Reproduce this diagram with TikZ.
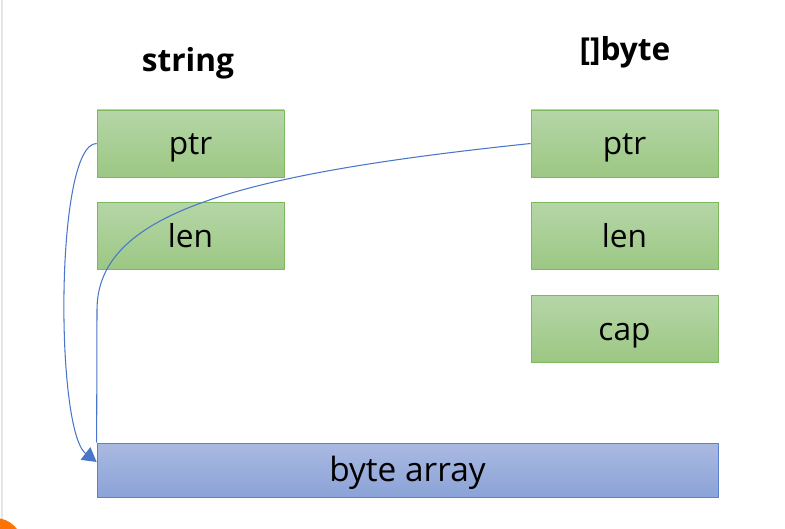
\documentclass[tikz,border=0pt]{standalone}
\usepackage{fontspec}
\setmainfont{Open Sans}
\usetikzlibrary{positioning, arrows.meta}

\definecolor{boxtop}{HTML}{B5D6A7}
\definecolor{boxbot}{HTML}{9CC783}
\definecolor{boxline}{HTML}{7DB95C}
\definecolor{arrtop}{HTML}{AAB9E1}
\definecolor{arrbot}{HTML}{8BA3D7}
\definecolor{arrline}{HTML}{5B80D0}
\definecolor{linkblue}{HTML}{4A76C8}

\begin{document}
\begin{tikzpicture}[]
        \tikzset{
            >={Triangle[length=8pt, width=9pt]}, % filled arrow head
            node distance=0.5cm, % gap between the fields
            field/.style={draw=boxline, top color=boxtop, bottom color=boxbot, minimum width=3.74cm, minimum height=1.34cm, text height=15pt, text depth=2pt, font=\fontsize{18}{21}\selectfont},
            title/.style={font=\fontsize{18}{21}\selectfont\bfseries},
            link/.style={draw=linkblue, line width=0.6pt},
            }
        \useasboundingbox (0,0) rectangle (15.7,10.56);
        \begin{scope}
        \clip (0,0) rectangle (15.7,10.56);
        \draw[gray!20, line width=0.8pt] (0.04,0) -- (0.04,10.56);
        \fill[orange!90!red] (-0.1,-0.35) circle (0.55);
        \end{scope}

        % nodes
        \node[title] (string_title) at (3.76,9.30) {string};
        \node[title] (bytes_title) at (12.5,9.52) {[]byte};
        \node[field] (s_ptr) at (3.81,7.69) {ptr};
        \node[field, below=of s_ptr] (s_len) {len};
        \node[field] (b_ptr) at (12.49,7.69) {ptr};
        \node[field, below=of b_ptr] (b_len) {len};
        \node[field, below=of b_len] (b_cap) {cap};
        \node[draw=arrline, top color=arrtop, bottom color=arrbot, minimum width=12.42cm, minimum height=1.08cm, text height=15pt, text depth=2pt, font=\fontsize{19}{22}\selectfont] (byte_array) at (8.15,1.16) {byte array};

        % pointer paths
        \draw[link, ->] (s_ptr.west) .. controls (1.10,7.70) and (1.10,1.96) .. ([yshift=0.16cm]byte_array.west);
        \draw[link] (b_ptr.west) .. controls (4.6,7.06) and (1.94,6.26) .. (1.94,4.36) -- (byte_array.north west);
    \end{tikzpicture}
\end{document}
